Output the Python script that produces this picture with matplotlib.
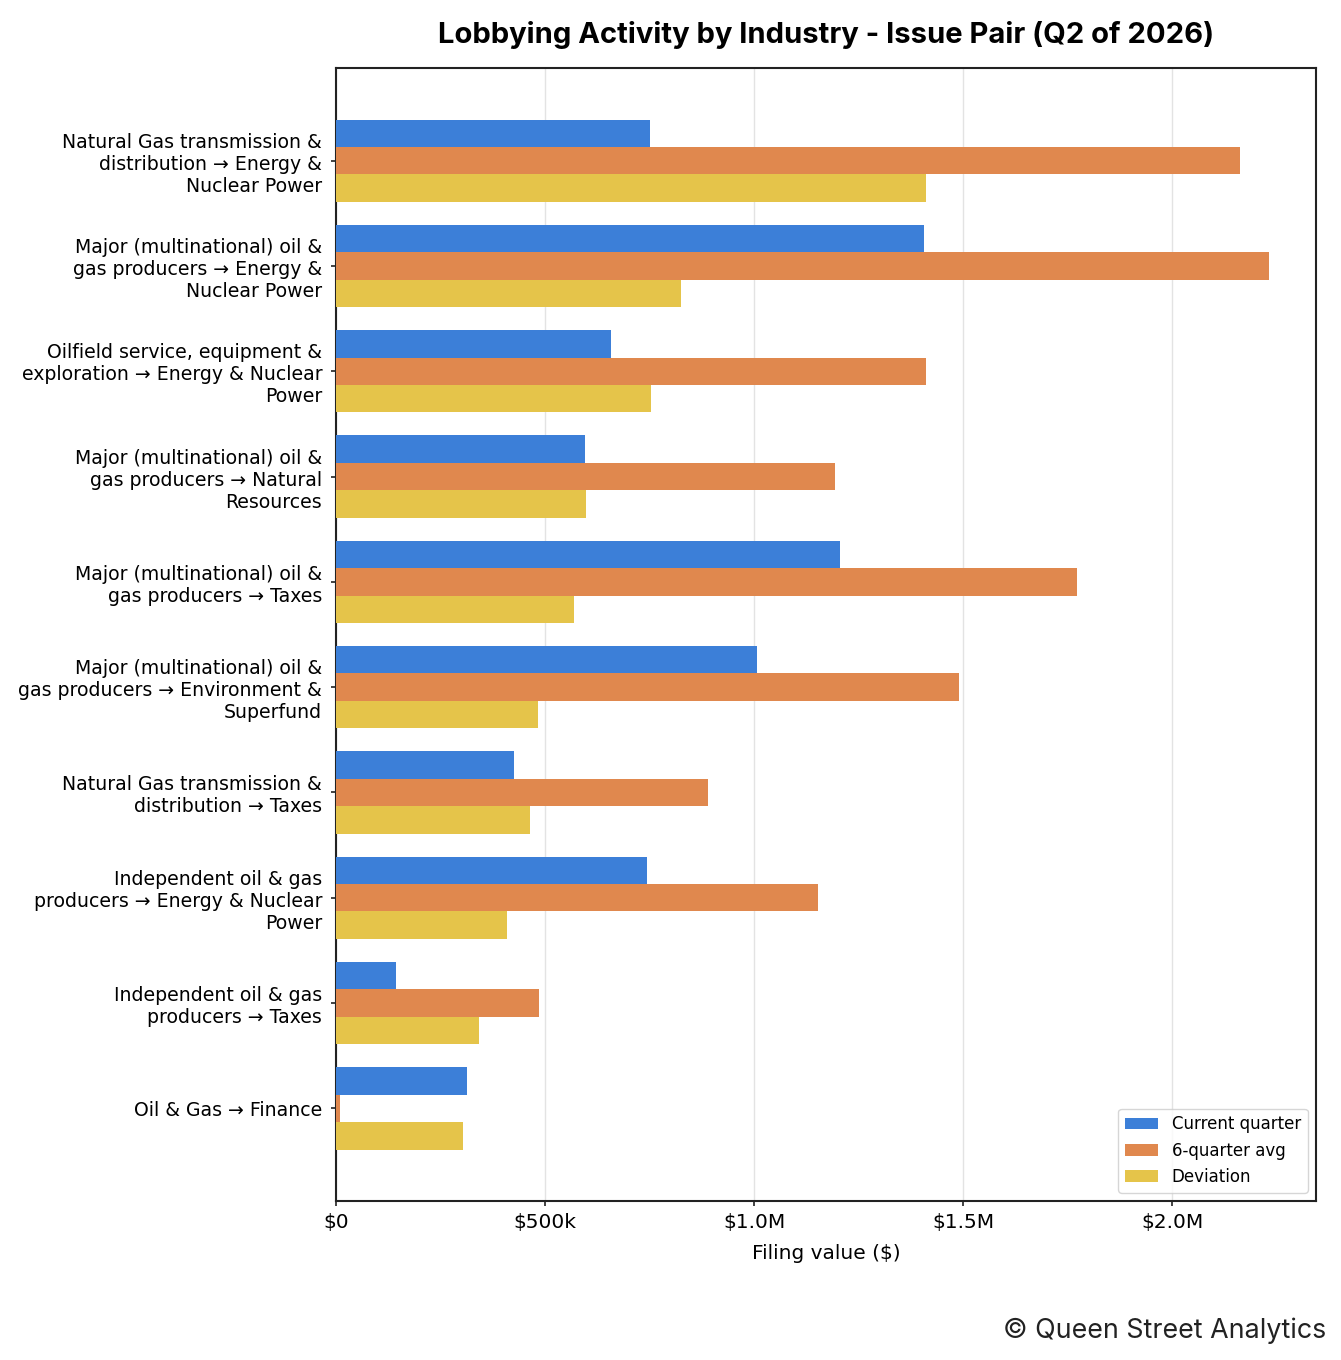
import numpy as np
import matplotlib
matplotlib.use("Agg")
import matplotlib.pyplot as plt
from matplotlib.ticker import FuncFormatter

# data (values in $M)
pairs = [
    "Natural Gas transmission &\ndistribution \u2192 Energy &\nNuclear Power",
    "Major (multinational) oil &\ngas producers \u2192 Energy &\nNuclear Power",
    "Oilfield service, equipment &\nexploration \u2192 Energy & Nuclear\nPower",
    "Major (multinational) oil &\ngas producers \u2192 Natural\nResources",
    "Major (multinational) oil &\ngas producers \u2192 Taxes",
    "Major (multinational) oil &\ngas producers \u2192 Environment &\nSuperfund",
    "Natural Gas transmission &\ndistribution \u2192 Taxes",
    "Independent oil & gas\nproducers \u2192 Energy & Nuclear\nPower",
    "Independent oil & gas\nproducers \u2192 Taxes",
    "Oil & Gas \u2192 Finance",
]
current = [0.750, 1.407, 0.657, 0.595, 1.204, 1.006, 0.425, 0.743, 0.143, 0.313]
avg6 = [2.162, 2.232, 1.410, 1.192, 1.773, 1.489, 0.889, 1.152, 0.485, 0.010]
deviation = [1.412, 0.824, 0.753, 0.597, 0.569, 0.483, 0.464, 0.409, 0.342, 0.303]

plt.rcParams['font.family'] = ['DejaVu Sans']

fig = plt.figure(figsize=(13.41, 13.6), dpi=100)
ax = fig.add_axes([0.2506, 0.1169, 0.9814 - 0.2506, 0.95 - 0.1169])

y = np.arange(len(pairs))
h = 0.26
ax.barh(y - h, np.array(current) * 1e6, height=h, color="#3c7fd8", label="Current quarter", zorder=3)
ax.barh(y, np.array(avg6) * 1e6, height=h, color="#e0884e", label="6-quarter avg", zorder=3)
ax.barh(y + h, np.array(deviation) * 1e6, height=h, color="#e5c44a", label="Deviation", zorder=3)

ax.set_yticks(y)
ax.set_yticklabels(pairs, fontsize=13.6)
ax.invert_yaxis()
ax.set_xlim(0, max(avg6) * 1e6 * 1.05)


def money(v, pos):
    if v == 0:
        return "$0"
    if v >= 1e6:
        return f"${v/1e6:.1f}M"
    return f"${v/1e3:.0f}k"


ax.xaxis.set_major_formatter(FuncFormatter(money))
ax.set_xticks([0, 0.5e6, 1.0e6, 1.5e6, 2.0e6])
ax.tick_params(axis='x', labelsize=14.5, pad=5)
ax.tick_params(axis='y', pad=6.5)
ax.tick_params(color="#222222", width=1.2)
ax.set_xlabel("Filing value ($)", fontsize=14.5, labelpad=9)
ax.grid(axis='x', color="#e3e3e3", linewidth=1, zorder=0)
for s in ax.spines.values():
    s.set_color("#222222")
    s.set_linewidth(1.5)

ax.set_title("Lobbying Activity by Industry - Issue Pair (Q2 of 2026)",
             fontsize=21, fontweight='bold', family='Inter', pad=18)
ax.legend(loc="lower right", fontsize=12)

fig.text(0.989, 0.012, "\u00a9 Queen Street Analytics", ha='right', va='bottom',
         fontsize=19.3, family='Inter', color="#222222")

fig.savefig("out.png", dpi=100)
